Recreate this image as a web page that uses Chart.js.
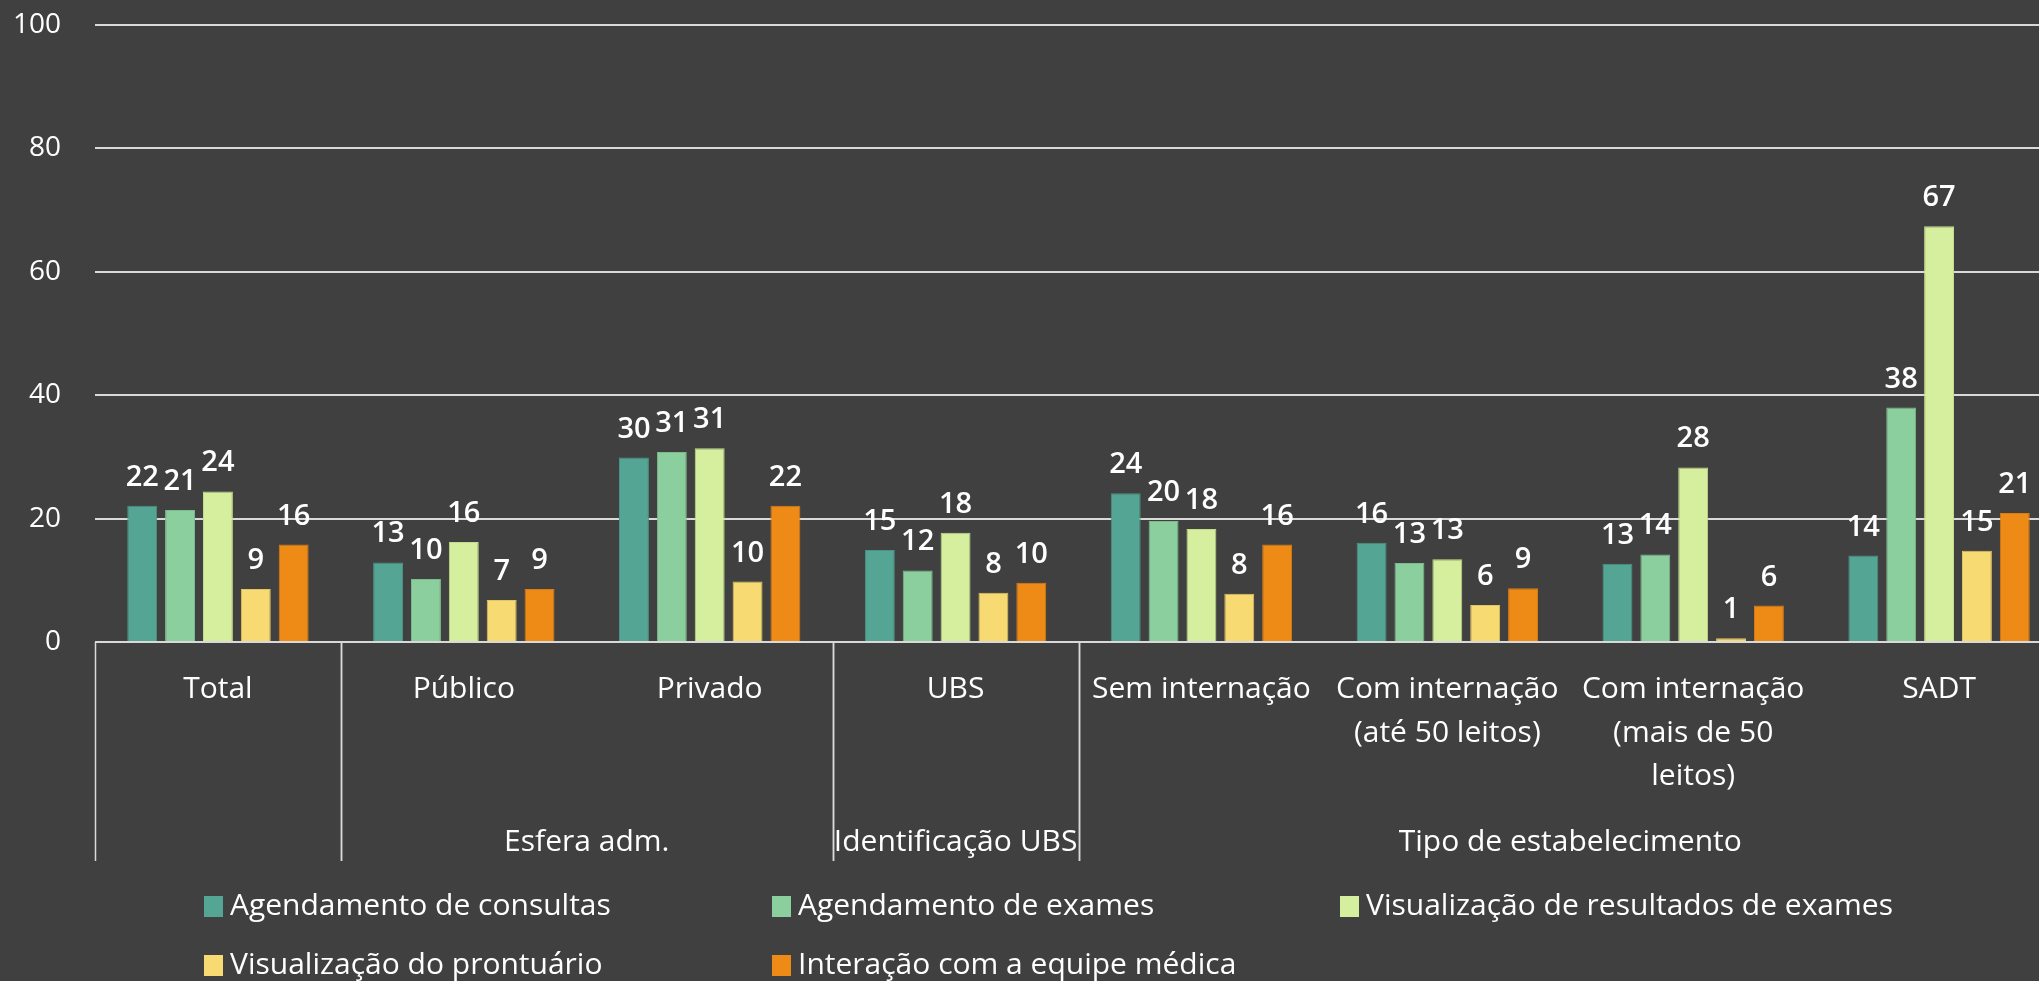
<!DOCTYPE html>
<html>
<head>
<meta charset="utf-8">
<script src="https://cdn.jsdelivr.net/npm/chart.js@4.4.0/dist/chart.umd.min.js"></script>
<style>
html, body { margin: 0; padding: 0; background: #404040; overflow: hidden; }
#wrap { position: relative; width: 2062px; height: 981px; }
</style>
</head>
<body>
<div id="wrap"><canvas id="chart"></canvas></div>
<script>
// Data
const categories = [
    ['Total'], ['Público'], ['Privado'], ['UBS'], ['Sem internação'],
    ['Com internação', '(até 50 leitos)'], ['Com internação', '(mais de 50', 'leitos)'], ['SADT']
];
const groupLabels = ['', 'Esfera adm.', 'Identificação UBS', 'Tipo de estabelecimento'];
const groupSizes = [1, 2, 1, 4];

const seriesNames = [
    'Agendamento de consultas', 'Agendamento de exames', 'Visualização de resultados de exames',
    'Visualização do prontuário', 'Interação com a equipe médica'
];
const consultas  = [22.1, 12.9, 29.9, 14.9, 24.1, 16.1, 12.7, 14.0];
const exames     = [21.4, 10.2, 30.8, 11.6, 19.6, 12.8, 14.2, 38.0];
const resultados = [24.4, 16.2, 31.4, 17.7, 18.3, 13.4, 28.3, 67.4];
const prontuario = [8.6, 6.8, 9.8, 8.0, 7.8, 6.0, 0.6, 14.8];
const interacao  = [15.8, 8.6, 22.1, 9.6, 15.8, 8.7, 5.9, 20.9];
const yTicks = [0, 20, 40, 60, 80, 100];

const colors = ['#55a595', '#8ccf9e', '#d6ef9e', '#f7da72', '#ee8b17'];
const edges = ['#4b9485', '#7cbb8d', '#c3db8c', '#e2c663', '#d97d12'];
const FONT = '"Open Sans", "Noto Sans", sans-serif';

Chart.defaults.font.family = FONT;
Chart.defaults.color = '#ffffff';

// value labels above bars
const valueLabels = {
    id: 'valueLabels',
    afterDatasetsDraw(chart) {
        const ctx = chart.ctx;
        ctx.save();
        ctx.fillStyle = '#ffffff';
        ctx.font = '600 29px ' + FONT;
        ctx.textAlign = 'center';
        ctx.textBaseline = 'alphabetic';
        chart.data.datasets.forEach((ds, i) => {
            chart.getDatasetMeta(i).data.forEach((bar, j) => {
                ctx.fillText(Math.round(ds.data[j]), bar.x, bar.y - 20);
            });
        });
        ctx.restore();
    }
};

// second level of the x axis: separators and group names
const groupAxis = {
    id: 'groupAxis',
    afterDraw(chart) {
        const x = chart.scales.x;
        const ctx = chart.ctx;
        const top = chart.chartArea.bottom;
        const bottom = top + 219;
        const half = (x.getPixelForTick(1) - x.getPixelForTick(0)) / 2;
        ctx.save();
        ctx.strokeStyle = '#d9d9d9';
        ctx.lineWidth = 1.5;
        ctx.fillStyle = '#ffffff';
        ctx.font = '30px ' + FONT;
        ctx.textAlign = 'center';
        ctx.textBaseline = 'middle';
        let start = 0;
        groupSizes.forEach((n, g) => {
            const left = x.getPixelForTick(start) - half;
            const right = x.getPixelForTick(start + n - 1) + half;
            [left, right].forEach(px => {
                ctx.beginPath();
                ctx.moveTo(Math.round(px) + 0.5, top);
                ctx.lineTo(Math.round(px) + 0.5, bottom);
                ctx.stroke();
            });
            if (groupLabels[g]) ctx.fillText(groupLabels[g], (left + right) / 2, 842);
            start += n;
        });
        ctx.restore();
    }
};

// legend laid out in fixed columns like the original
const gridLegend = {
    id: 'gridLegend',
    afterDraw(chart) {
        const ctx = chart.ctx;
        ctx.save();
        ctx.font = '30px ' + FONT;
        ctx.textBaseline = 'middle';
        ctx.textAlign = 'left';
        chart.data.datasets.forEach((ds, i) => {
            const col = i % 3, row = Math.floor(i / 3);
            const bx = 204 + col * 568;
            const cy = 906 + row * 59;
            ctx.fillStyle = ds.backgroundColor;
            ctx.fillRect(bx, cy - 10, 19, 21);
            ctx.fillStyle = '#ffffff';
            ctx.fillText(ds.label, bx + 26, cy);
        });
        ctx.restore();
    }
};

const seriesData = [consultas, exames, resultados, prontuario, interacao];

const ctx = document.getElementById('chart').getContext('2d');
window.myChart = new Chart(ctx, {
    type: 'bar',
    data: {
        labels: categories,
        datasets: seriesData.map((d, i) => ({
            label: seriesNames[i],
            data: d,
            backgroundColor: colors[i],
            borderColor: edges[i],
            borderWidth: 1,
            categoryPercentage: 0.77,
            barPercentage: 0.79
        }))
    },
    options: {
        responsive: true,
        maintainAspectRatio: false,
        animation: false,
        layout: { padding: { top: 25, right: 0, bottom: 120, left: 0 } },
        plugins: {
            legend: { display: false },
            tooltip: { enabled: false }
        },
        scales: {
            x: {
                grid: { display: false, drawTicks: false },
                border: { display: false },
                ticks: {
                    color: '#ffffff',
                    font: { size: 30, lineHeight: 1.45 },
                    padding: 26,
                    maxRotation: 0,
                    autoSkip: false
                },
                afterFit(scale) { scale.height = 219; }
            },
            y: {
                min: 0,
                max: 100,
                afterBuildTicks(scale) { scale.ticks = yTicks.map(v => ({ value: v })); },
                // invisible tick marks push the labels left without adding top padding
                grid: { color: '#d9d9d9', lineWidth: 2, drawTicks: true, tickLength: 32, tickColor: 'rgba(0,0,0,0)' },
                border: { display: false },
                ticks: {
                    color: '#ffffff',
                    font: { size: 28 },
                    padding: 2
                },
                afterFit(scale) { scale.width = 95; }
            }
        }
    },
    plugins: [valueLabels, groupAxis, gridLegend]
});
</script>
</body>
</html>
